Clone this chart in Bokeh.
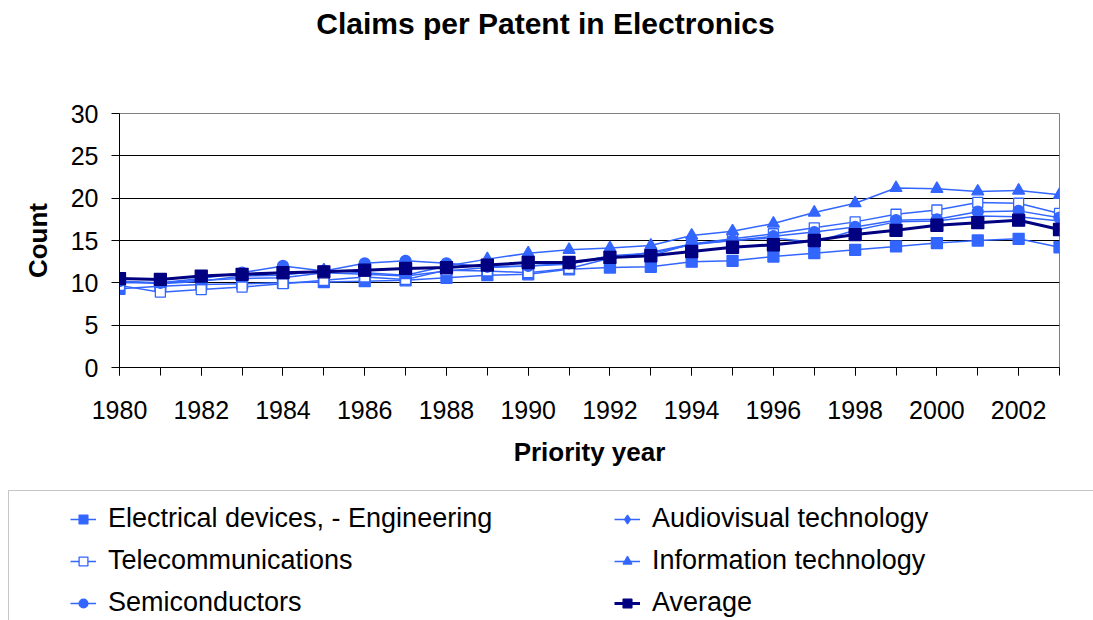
from bokeh.plotting import figure
from bokeh.models import (ColumnDataSource, Legend, LegendItem, FixedTicker, Label,
                          BoxAnnotation, Range1d, Plot)
from bokeh.layouts import column
from bokeh.embed import file_html
from bokeh.resources import INLINE

years = list(range(1980, 2004))
electrical = [9.3, 9.6, 9.8, 9.9, 10.0, 10.1, 10.2, 10.3, 10.6, 10.9, 11.0, 11.6,
              11.8, 11.9, 12.5, 12.6, 13.1, 13.5, 13.9, 14.3, 14.7, 15.0, 15.2, 14.2]
audiovisual = [10.0, 10.0, 10.3, 10.5, 10.6, 11.2, 11.0, 10.8, 11.4, 11.8, 12.0, 12.2,
               13.2, 13.5, 14.5, 15.0, 15.3, 14.8, 16.2, 17.2, 17.3, 17.9, 17.8, 17.3]
telecom = [9.7, 8.9, 9.2, 9.5, 9.9, 10.3, 10.7, 10.4, 11.5, 11.4, 11.2, 11.7,
           12.9, 13.6, 14.6, 15.2, 15.8, 16.5, 17.2, 18.1, 18.6, 19.5, 19.4, 18.2]
infotech = [10.2, 9.9, 10.2, 10.8, 10.9, 11.5, 11.2, 10.9, 12.0, 12.8, 13.5, 13.9,
            14.1, 14.4, 15.6, 16.1, 17.0, 18.3, 19.4, 21.2, 21.1, 20.8, 20.9, 20.4]
semis = [10.2, 10.0, 10.5, 11.2, 12.0, 11.4, 12.3, 12.6, 12.3, 11.9, 12.0, 12.3,
         13.0, 13.2, 14.6, 15.0, 15.5, 16.0, 16.6, 17.4, 17.5, 18.4, 18.5, 17.7]
average = [10.5, 10.4, 10.8, 11.0, 11.2, 11.3, 11.5, 11.7, 11.8, 12.1, 12.4, 12.4,
           13.0, 13.2, 13.7, 14.2, 14.5, 15.0, 15.7, 16.2, 16.8, 17.1, 17.4, 16.3]

series_names = ["Electrical devices, - Engineering", "Audiovisual technology",
                "Telecommunications", "Information technology", "Semiconductors", "Average"]
title_text = "Claims per Patent in Electronics"
y_ticks = [0, 5, 10, 15, 20, 25, 30]
x_label_years = list(range(1980, 2004, 2))

FONT = "Liberation Sans"
LIGHT = "#3366FF"
NAVY = "#000080"
W = 1093
HAS_FA = "frame_align" in Plot.properties()


def strip(height):
    f = figure(width=W, height=height, output_backend="svg", toolbar_location=None,
               x_range=Range1d(0, W), y_range=Range1d(0, height),
               x_axis_location=None, y_axis_location=None,
               min_border_left=0, min_border_right=0,
               min_border_top=0, min_border_bottom=0)
    if HAS_FA:
        f.frame_align = False
    f.outline_line_color = None
    f.xgrid.visible = False
    f.ygrid.visible = False
    return f


# ---------------- title strip ----------------
TH = 60
tf = strip(TH)
tf.add_layout(Label(x=545, y=TH - 23, text=title_text, text_font=FONT,
                    text_font_size="30px", text_font_style="bold",
                    text_align="center", text_baseline="middle", text_color="black"))

# ---------------- main chart ----------------
LH = 132
MH = 620 - TH - LH
p = figure(width=W, height=MH, output_backend="svg", toolbar_location=None,
           x_range=Range1d(1980, 2003), y_range=Range1d(0, 30),
           min_border_left=119, min_border_right=W - 1059, min_border_top=113 - TH,
           min_border_bottom=(TH + MH) - 367)
p.outline_line_color = "#808080"
p.outline_line_width = 1

src = ColumnDataSource(dict(x=years, e=electrical, a=audiovisual, t=telecom,
                            i=infotech, s=semis, avg=average))

specs = [
    ("e", "square", 11, LIGHT, LIGHT, 1.5),
    ("a", "diamond", 12, LIGHT, LIGHT, 1.5),
    ("t", "square", 10, LIGHT, "white", 1.5),
    ("i", "triangle", 12, LIGHT, LIGHT, 1.5),
    ("s", "circle", 11, LIGHT, LIGHT, 1.5),
    ("avg", "square", 12, NAVY, NAVY, 3),
]
for key, marker, size, lc, fc, lw in specs:
    p.line("x", key, source=src, line_color=lc, line_width=lw)
    p.scatter("x", key, source=src, marker=marker, size=size, line_color=lc,
              fill_color=fc, line_width=1.3)

p.xaxis.ticker = FixedTicker(ticks=x_label_years, minor_ticks=years)
p.yaxis.ticker = FixedTicker(ticks=y_ticks)
for ax in (p.xaxis, p.yaxis):
    ax.major_label_text_font = FONT
    ax.major_label_text_font_size = "25px"
    ax.major_label_text_color = "black"
    ax.axis_label_text_font = FONT
    ax.axis_label_text_font_size = "26px"
    ax.axis_label_text_font_style = "bold"
    ax.axis_label_text_color = "black"
    ax.axis_line_color = "black"
    ax.major_tick_line_color = "black"
    ax.major_tick_out = 8
    ax.major_tick_in = 0
p.xaxis.minor_tick_line_color = "black"
p.xaxis.minor_tick_out = 8
p.xaxis.minor_tick_in = 0
p.yaxis.minor_tick_line_color = None
p.xaxis.axis_label = "Priority year"
p.yaxis.axis_label = "Count"
p.xaxis.major_label_standoff = 25
p.xaxis.axis_label_standoff = 15
p.yaxis.major_label_standoff = 13
p.yaxis.axis_label_standoff = 15

p.xgrid.grid_line_color = None
p.ygrid.ticker = FixedTicker(ticks=y_ticks)
p.ygrid.grid_line_color = "black"
p.ygrid.grid_line_width = 1

# ---------------- legend strip ----------------
lf = strip(LH)
lf.add_layout(BoxAnnotation(left=8, right=W + 50, top=LH - 2, bottom=-50,
                            fill_alpha=0, line_color="#404040", line_width=1))

lsrc = ColumnDataSource(dict(x=years, e=electrical, a=audiovisual, t=telecom,
                             i=infotech, s=semis, avg=average))
leg_r = []
for key, marker, size, lc, fc, lw in specs:
    # same series, drawn outside the strip's visible range; used only for legend glyphs
    ln = lf.line("x", key, source=lsrc, line_color=lc, line_width=lw)
    sc = lf.scatter("x", key, source=lsrc, marker=marker, size=size, line_color=lc,
                    fill_color=fc, line_width=1.3)
    leg_r.append([ln, sc])

order = [0, 2, 4, 1, 3, 5]
items = [LegendItem(label=series_names[i], renderers=leg_r[i]) for i in order]
legend = Legend(items=items, location=(70, 2), orientation="vertical", ncols=2,
                label_text_font=FONT, label_text_font_size="27px",
                label_text_color="black", glyph_width=26, glyph_height=22,
                label_standoff=12, label_width=495, spacing=11, padding=0, margin=0,
                border_line_alpha=0, background_fill_alpha=0)
lf.add_layout(legend, "center")

layout = column(tf, p, lf, spacing=0)
open("out.html", "w").write(file_html(layout, INLINE))
